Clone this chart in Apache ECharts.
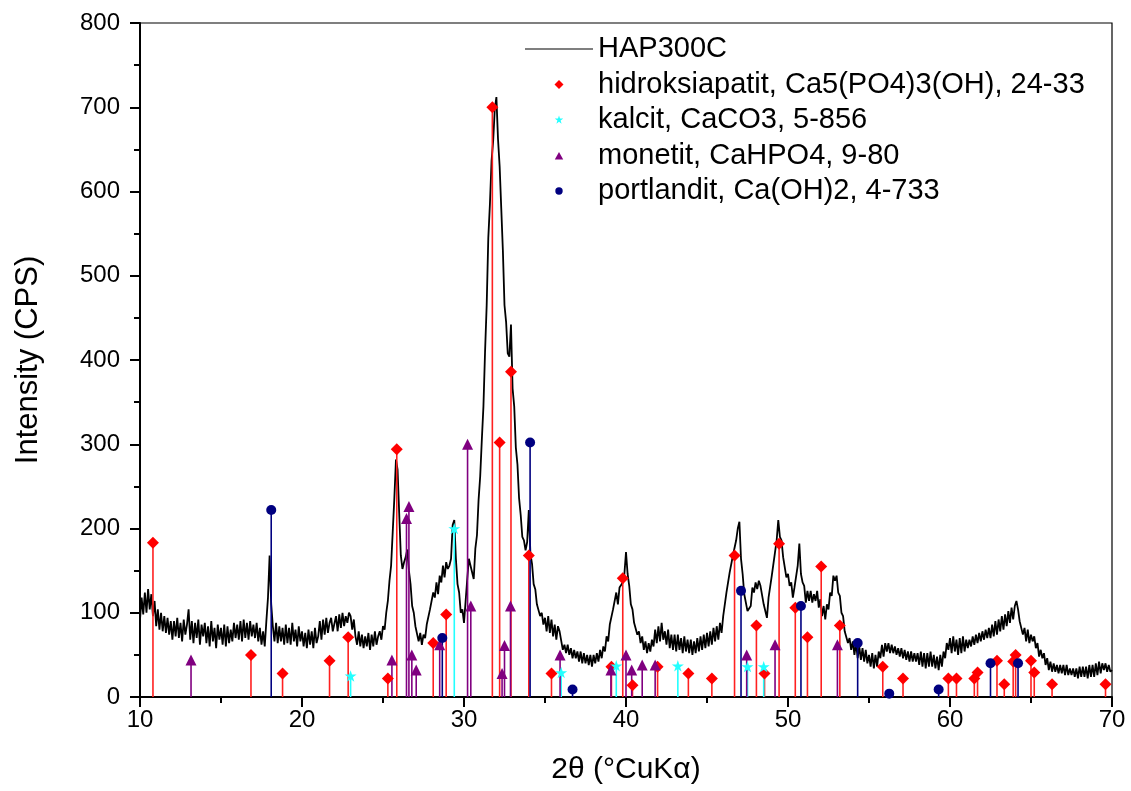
<!DOCTYPE html>
<html>
<head>
<meta charset="utf-8">
<script src="https://cdn.jsdelivr.net/npm/echarts@6/dist/echarts.min.js"></script>
<style>html,body{margin:0;padding:0;background:#fff}#c{width:1131px;height:791px}</style>
</head>
<body>
<div id="c"></div>
<script>
const scanStart = 10.0;
const scanStep = 0.1;
const hap300c = [
92,118,98,124,100,128,104,122,96,114,
84,104,80,100,78,96,76,94,74,90,
68,90,72,94,70,88,66,92,74,86,
104,68,90,64,88,70,92,62,86,72,
88,64,84,60,90,66,82,58,86,68,
82,62,86,60,84,64,80,66,88,70,
86,68,90,66,92,70,88,68,90,72,
86,70,88,66,82,62,78,60,90,118,
168,110,84,66,88,64,84,66,82,62,
86,64,82,62,88,66,80,60,84,66,
78,60,76,58,80,62,78,58,82,64,
72,90,68,92,74,94,76,88,94,78,
80,96,78,98,82,100,84,96,88,100,
96,80,92,72,62,78,60,74,58,72,
60,76,56,74,60,78,62,72,78,68,
84,80,100,114,138,156,196,236,282,270,
218,168,152,160,166,175,150,134,108,100,
84,86,66,76,62,74,70,86,84,104,
106,124,118,136,122,144,136,156,142,160,
152,156,164,204,210,164,134,124,100,104,
88,114,140,164,156,156,140,176,192,234,
262,305,345,410,465,545,585,636,660,698,
712,662,630,580,530,465,445,408,404,442,
366,345,296,276,236,216,190,186,174,184,
222,170,158,134,128,110,112,96,100,86,
94,78,96,76,92,72,86,68,84,78,
76,56,62,52,62,50,58,46,56,46,
54,42,54,40,52,40,50,38,50,36,
50,40,52,42,56,46,60,54,72,66,
86,88,104,102,124,110,130,130,136,146,
172,146,132,110,104,88,90,74,78,64,
72,56,66,52,64,54,68,60,80,64,
84,66,88,68,78,62,80,58,74,56,
74,54,74,56,70,52,72,54,68,52,
68,50,66,52,70,54,72,56,74,58,
76,60,78,62,82,66,84,68,88,76,
96,98,124,126,148,148,168,168,186,200,
208,164,146,122,120,102,100,108,130,124,
136,128,138,132,130,110,110,94,118,120,
144,142,172,186,210,190,186,166,166,142,
146,132,136,118,130,128,156,182,146,136,
132,112,126,114,126,112,122,114,126,106,
116,96,108,92,110,104,124,120,144,138,
144,124,120,100,96,78,80,64,70,56,
66,50,64,46,60,44,58,42,56,40,
50,36,52,34,50,36,54,46,62,48,
64,54,64,52,62,52,60,50,58,48,
58,46,56,44,54,42,54,42,52,42,
52,38,54,36,52,34,52,36,54,36,
50,34,48,32,50,36,54,46,64,56,
70,52,72,54,68,50,70,52,72,54,
68,58,68,60,72,62,74,64,76,66,
78,68,80,70,82,70,86,72,90,74,
92,78,96,80,98,84,102,88,106,92,
108,114,104,90,92,74,82,66,80,64,
74,66,72,58,64,48,56,46,52,38,
46,32,42,30,40,30,38,28,38,28,
38,26,38,26,34,26,34,24,34,22,
36,24,36,24,36,22,38,24,38,24,
40,26,42,28,40,32,40,30,38,30,
32
];

// Reference patterns: [2theta, relative intensity]
const hidroksiapatit = [[10.8,183],[16.85,50],[18.8,28],[21.7,43],[22.85,71],[25.3,22],[25.85,294],[28.1,64],[28.9,98],[31.75,700],[32.2,302],[32.9,386],[34.0,168],[35.4,28],[39.1,36],[39.8,141],[40.4,14],[41.95,36],[43.85,28],[45.3,22],[46.7,168],[48.05,85],[48.55,28],[49.45,182],[50.45,106],[51.2,71],[52.05,155],[53.2,85],[55.85,36],[57.1,22],[59.9,22],[60.4,22],[61.5,22],[61.7,29],[62.9,43],[63.35,15],[63.9,42],[64.05,50],[65.0,43],[65.2,29],[66.3,15],[69.6,15]];
const kalcit = [[23.0,25],[29.4,200],[36.0,29],[39.4,37],[43.2,37],[47.5,36],[48.5,36]];
const monetit = [[13.15,44],[25.55,44],[26.45,212],[26.6,226],[26.78,50],[27.05,32],[28.5,62],[30.22,300],[30.42,108],[32.35,28],[32.5,61],[32.87,108],[35.93,50],[39.07,32],[40.0,50],[40.35,32],[41.0,38],[41.8,38],[47.45,50],[49.2,62],[53.05,62]];
const portlandit = [[18.1,222],[28.66,70],[34.08,302],[36.7,9],[47.1,126],[50.8,108],[54.3,64],[56.25,4],[59.3,9],[62.5,40],[64.2,40]];

const names = {
  trace: 'HAP300C',
  hap: 'hidroksiapatit, Ca5(PO4)3(OH), 24-33',
  kal: 'kalcit, CaCO3, 5-856',
  mon: 'monetit, CaHPO4, 9-80',
  por: 'portlandit, Ca(OH)2, 4-733'
};

const tracePoints = hap300c.map((v, i) => [scanStart + i * scanStep, v]);
const STAR = 'path://M50,0 L61.2,34.5 L97.6,34.5 L68.2,55.9 L79.4,90.5 L50,69.1 L20.6,90.5 L31.8,55.9 L2.4,34.5 L38.8,34.5 Z';
// legend icons drawn inside a 68x9 box (corner moves fix the box)
const ICON_LINE = 'path://M0,0 M0,3.9 L68,3.9 L68,5.1 L0,5.1 Z M68,9';
const ICON_DIAMOND = 'path://M0,0 M29.5,4.5 L34,0 L38.5,4.5 L34,9 Z M68,9';
const ICON_STAR = 'path://M0,0 M34,0 L35,3.1 L38.3,3.1 L35.6,5 L36.6,8.2 L34,6.3 L31.4,8.2 L32.4,5 L29.7,3.1 L33,3.1 Z M68,9';
const ICON_TRI = 'path://M0,0 M29.8,8.5 L34,1 L38.2,8.5 Z M68,9';
const ICON_CIRCLE = 'path://M0,0 M30.3,4.5 A3.7,3.7 0 1,0 37.7,4.5 A3.7,3.7 0 1,0 30.3,4.5 Z M68,9';
const FONT = '"Liberation Sans", Arial, sans-serif';

function sticks(name, data, color) {
  return {
    type: 'custom', name: name + ' sticks', data: data, z: 3, silent: true,
    renderItem: function (params, api) {
      const x = api.value(0), v = api.value(1);
      const p0 = api.coord([x, 0]), p1 = api.coord([x, v]);
      return { type: 'line', shape: { x1: p0[0], y1: p0[1], x2: p1[0], y2: p1[1] },
        style: { stroke: color, lineWidth: 1.6 } };
    }
  };
}
function marks(name, data, color, symbol, size) {
  return { type: 'scatter', name: name, data: data, symbol: symbol, symbolSize: size,
    symbolKeepAspect: true, itemStyle: { color: color, opacity: 1 }, z: 4, silent: true };
}

const chart = echarts.init(document.getElementById('c'), null, { renderer: 'canvas' });
chart.setOption({
  animation: false,
  backgroundColor: '#fff',
  grid: { left: 140, right: 19, top: 23, bottom: 94, show: true, borderColor: '#000', borderWidth: 1.2 },
  legend: {
    orient: 'vertical', left: 520, top: 29, itemWidth: 68, itemHeight: 9, itemGap: 5.5,
    symbolKeepAspect: true,
    textStyle: { fontFamily: FONT, fontSize: 29, color: '#000', lineHeight: 30 },
    data: [
      { name: names.trace, icon: ICON_LINE },
      { name: names.hap, icon: ICON_DIAMOND },
      { name: names.kal, icon: ICON_STAR },
      { name: names.mon, icon: ICON_TRI },
      { name: names.por, icon: ICON_CIRCLE }
    ]
  },
  xAxis: {
    type: 'value', min: 10, max: 70, interval: 10,
    name: '2θ (°CuKα)', nameLocation: 'middle', nameGap: 58,
    nameTextStyle: { fontFamily: FONT, fontSize: 30, color: '#000' },
    axisLine: { lineStyle: { color: '#000', width: 2 } },
    axisTick: { length: 10, lineStyle: { color: '#000', width: 2 } },
    minorTick: { show: true, splitNumber: 2, length: 6, lineStyle: { color: '#000', width: 2 } },
    axisLabel: { fontFamily: FONT, fontSize: 24, color: '#000', margin: 11 },
    splitLine: { show: false }
  },
  yAxis: {
    type: 'value', min: 0, max: 800, interval: 100,
    name: 'Intensity (CPS)', nameLocation: 'middle', nameGap: 96,
    nameTextStyle: { fontFamily: FONT, fontSize: 31, color: '#000' },
    axisLine: { lineStyle: { color: '#000', width: 2 } },
    axisTick: { length: 10, lineStyle: { color: '#000', width: 2 } },
    minorTick: { show: true, splitNumber: 2, length: 6, lineStyle: { color: '#000', width: 2 } },
    axisLabel: { fontFamily: FONT, fontSize: 24, color: '#000', margin: 20 },
    splitLine: { show: false }
  },
  series: [
    { type: 'line', name: names.trace, data: tracePoints, symbol: 'none', z: 2, silent: true,
      lineStyle: { color: '#000', width: 1.8 }, itemStyle: { color: '#000' } },
    marks(names.hap, hidroksiapatit, '#ff0000', 'diamond', 12),
    marks(names.kal, kalcit, '#22ffff', STAR, 12),
    marks(names.mon, monetit, '#800080', 'triangle', 11),
    marks(names.por, portlandit, '#000080', 'circle', 10),
    sticks(names.hap, hidroksiapatit, '#ff2020'),
    sticks(names.kal, kalcit, '#22ffff'),
    sticks(names.mon, monetit, '#800080'),
    sticks(names.por, portlandit, '#000080')
  ]
});
</script>
</body>
</html>
